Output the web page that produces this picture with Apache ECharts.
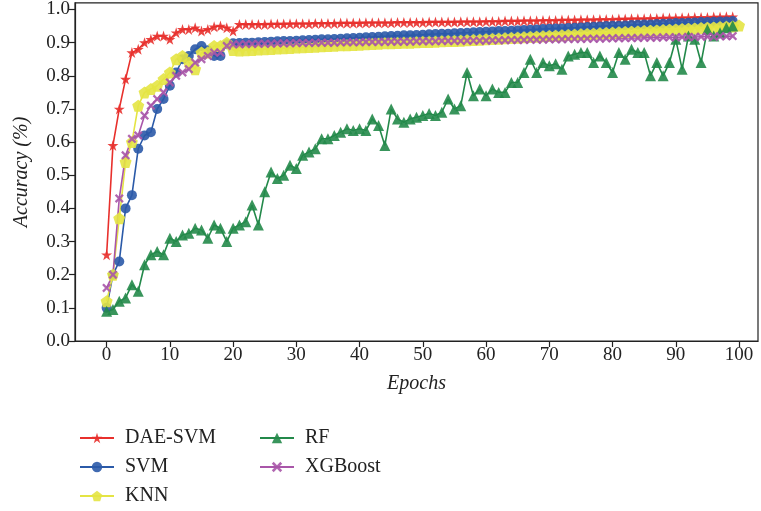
<!DOCTYPE html>
<html>
<head>
<meta charset="utf-8">
<title>Accuracy vs Epochs</title>
<script src="https://cdn.jsdelivr.net/npm/echarts@6/dist/echarts.min.js"></script>
<style>
  html, body { margin: 0; padding: 0; background: #fff; }
  #chart { width: 761px; height: 511px; }
</style>
</head>
<body>
<div id="chart"></div>
<script>
// Accuracy per training epoch for each classifier
const daeSvm = [
  0.26, 0.59, 0.70, 0.79, 0.87, 0.88, 0.90, 0.91, 0.92, 0.92,
  0.91, 0.93, 0.94, 0.94, 0.945, 0.935, 0.94, 0.948, 0.95, 0.945,
  0.935, 0.955, 0.955, 0.955, 0.955, 0.955, 0.956, 0.956, 0.956, 0.957,
  0.957, 0.957, 0.957, 0.958, 0.958, 0.958, 0.958, 0.959, 0.959, 0.959,
  0.959, 0.96, 0.96, 0.96, 0.96, 0.96, 0.961, 0.961, 0.961, 0.961,
  0.961, 0.962, 0.962, 0.962, 0.962, 0.962, 0.963, 0.963, 0.963, 0.963,
  0.964, 0.964, 0.964, 0.965, 0.965, 0.965, 0.966, 0.966, 0.966, 0.967,
  0.967, 0.967, 0.968, 0.968, 0.968, 0.969, 0.969, 0.969, 0.97, 0.97,
  0.97, 0.971, 0.971, 0.972, 0.972, 0.972, 0.973, 0.973, 0.974, 0.974,
  0.974, 0.975, 0.975, 0.976, 0.976, 0.976, 0.977, 0.977, 0.978, 0.978
];
const svm = [
  0.10, 0.20, 0.24, 0.40, 0.44, 0.58, 0.62, 0.63, 0.70, 0.73,
  0.77, 0.81, 0.85, 0.86, 0.88, 0.89, 0.877, 0.86, 0.86, 0.895,
  0.898, 0.899, 0.90, 0.90, 0.901, 0.902, 0.903, 0.904, 0.905, 0.905,
  0.906, 0.907, 0.908, 0.909, 0.91, 0.91, 0.911, 0.912, 0.913, 0.914,
  0.915, 0.916, 0.917, 0.918, 0.919, 0.92, 0.921, 0.922, 0.922, 0.923,
  0.924, 0.925, 0.926, 0.927, 0.927, 0.928, 0.929, 0.93, 0.931, 0.932,
  0.933, 0.934, 0.935, 0.935, 0.936, 0.937, 0.938, 0.939, 0.94, 0.941,
  0.942, 0.943, 0.943, 0.944, 0.945, 0.946, 0.947, 0.948, 0.949, 0.95,
  0.951, 0.951, 0.952, 0.953, 0.954, 0.955, 0.955, 0.956, 0.957, 0.958,
  0.959, 0.959, 0.96, 0.961, 0.962, 0.962, 0.963, 0.964, 0.964, 0.965
];
const knn = [
  0.12, 0.20, 0.37, 0.54, 0.60, 0.71, 0.75, 0.76, 0.77, 0.79,
  0.81, 0.85, 0.86, 0.84, 0.82, 0.87, 0.87, 0.89, 0.89, 0.90,
  0.878, 0.876, 0.877, 0.878, 0.879, 0.88, 0.881, 0.882, 0.883, 0.884,
  0.885, 0.886, 0.887, 0.888, 0.889, 0.89, 0.891, 0.892, 0.892, 0.893,
  0.894, 0.895, 0.896, 0.897, 0.898, 0.898, 0.899, 0.90, 0.90, 0.901,
  0.902, 0.902, 0.903, 0.904, 0.905, 0.905, 0.906, 0.907, 0.908, 0.909,
  0.91, 0.911, 0.912, 0.913, 0.914, 0.915, 0.916, 0.917, 0.918, 0.919,
  0.92, 0.921, 0.922, 0.923, 0.924, 0.925, 0.926, 0.927, 0.928, 0.929,
  0.93, 0.931, 0.932, 0.933, 0.934, 0.935, 0.936, 0.937, 0.938, 0.939,
  0.94, 0.941, 0.942, 0.943, 0.944, 0.945, 0.946, 0.947, 0.948, 0.949,
  0.952
];
const rf = [
  0.09, 0.095, 0.12, 0.13, 0.17, 0.15, 0.23, 0.26, 0.27, 0.26,
  0.31, 0.30, 0.32, 0.325, 0.34, 0.335, 0.31, 0.35, 0.34, 0.30,
  0.34, 0.35, 0.36, 0.41, 0.35, 0.45, 0.51, 0.49, 0.50, 0.53,
  0.52, 0.56, 0.57, 0.58, 0.61, 0.61, 0.62, 0.63, 0.64, 0.635,
  0.64, 0.635, 0.67, 0.65, 0.59, 0.70, 0.67, 0.66, 0.67, 0.675,
  0.68, 0.686, 0.68, 0.69, 0.73, 0.70, 0.71, 0.81, 0.74, 0.76,
  0.74, 0.76, 0.75, 0.75, 0.78, 0.78, 0.81, 0.85, 0.81, 0.84,
  0.83, 0.836, 0.82, 0.86, 0.865, 0.87, 0.87, 0.84, 0.86, 0.84,
  0.81, 0.87, 0.85, 0.88, 0.87, 0.87, 0.80, 0.84, 0.80, 0.84,
  0.91, 0.82, 0.92, 0.91, 0.84, 0.94, 0.92, 0.93, 0.945, 0.95
];
const xgboost = [
  0.16, 0.20, 0.43, 0.56, 0.61, 0.62, 0.68, 0.71, 0.73, 0.75,
  0.78, 0.80, 0.81, 0.82, 0.84, 0.85, 0.86, 0.87, 0.87, 0.89,
  0.895, 0.895, 0.896, 0.896, 0.897, 0.897, 0.897, 0.898, 0.898, 0.898,
  0.899, 0.899, 0.899, 0.90, 0.90, 0.90, 0.90, 0.901, 0.901, 0.901,
  0.901, 0.902, 0.902, 0.902, 0.902, 0.903, 0.903, 0.903, 0.903, 0.904,
  0.904, 0.904, 0.904, 0.905, 0.905, 0.905, 0.905, 0.906, 0.906, 0.906,
  0.906, 0.907, 0.907, 0.907, 0.908, 0.908, 0.908, 0.909, 0.909, 0.909,
  0.91, 0.91, 0.91, 0.911, 0.911, 0.911, 0.912, 0.912, 0.912, 0.913,
  0.913, 0.913, 0.914, 0.914, 0.914, 0.915, 0.915, 0.915, 0.916, 0.916,
  0.916, 0.917, 0.917, 0.917, 0.918, 0.918, 0.918, 0.919, 0.919, 0.92
];

const xTicks = [0, 10, 20, 30, 40, 50, 60, 70, 80, 90, 100];
const yTicks = [0.0, 0.1, 0.2, 0.3, 0.4, 0.5, 0.6, 0.7, 0.8, 0.9, 1.0];

// marker shapes
const STAR = 'path://M50,0 L61.2,34.5 L97.6,34.5 L68.2,55.9 L79.4,90.5 L50,69.1 L20.6,90.5 L31.8,55.9 L2.4,34.5 L38.8,34.5 Z';
const PENTAGON = 'path://M50,0 L97.6,34.5 L79.4,90.5 L20.6,90.5 L2.4,34.5 Z';
const CROSS = 'path://M18,0 L50,32 L82,0 L100,18 L68,50 L100,82 L82,100 L50,68 L18,100 L0,82 L32,50 L0,18 Z';

const FONT = '"Liberation Serif", "DejaVu Serif", serif';

function pairs(values) {
  return values.map((v, i) => [i, v]);
}

function lineSeries(name, values, color, symbol, size) {
  return {
    name: name,
    type: 'line',
    data: pairs(values),
    symbol: symbol,
    symbolSize: size,
    showAllSymbol: true,
    lineStyle: { color: color, width: 1.6 },
    itemStyle: { color: color, opacity: 0.9 },
    emphasis: { disabled: true },
    animation: false
  };
}

const chart = echarts.init(document.getElementById('chart'), null, { renderer: 'canvas' });

const legendCommon = {
  orient: 'vertical',
  padding: 0,
  itemWidth: 34,
  itemHeight: 13,
  itemGap: 9,
  height: 90,
  textStyle: { fontFamily: FONT, fontSize: 20, color: '#222', padding: [0, 0, 0, 6] }
};

chart.setOption({
  backgroundColor: '#fff',
  animation: false,
  grid: {
    left: 75, right: 3, top: 2, bottom: 170,
    show: true, borderColor: '#222', borderWidth: 1.2, backgroundColor: 'transparent'
  },
  legend: [
    Object.assign({}, legendCommon, { left: 79, top: 428, data: ['DAE-SVM', 'SVM', 'KNN'] }),
    Object.assign({}, legendCommon, { left: 259, top: 428, data: ['RF', 'XGBoost'] })
  ],
  xAxis: {
    type: 'value',
    min: -5, max: 103,
    name: 'Epochs',
    nameLocation: 'middle',
    nameGap: 33,
    nameTextStyle: { fontFamily: FONT, fontSize: 20, fontStyle: 'italic', color: '#222' },
    axisLine: { show: true, onZero: false, lineStyle: { color: '#222', width: 1.2 } },
    axisTick: { show: true, length: 6, customValues: xTicks, lineStyle: { color: '#222', width: 1.2 } },
    axisLabel: { customValues: xTicks, fontFamily: FONT, fontSize: 19, color: '#222', margin: 5 },
    splitLine: { show: false }
  },
  yAxis: {
    type: 'value',
    min: 0, max: 1.02,
    name: 'Accuracy (%)',
    nameLocation: 'middle',
    nameGap: 43,
    nameTextStyle: { fontFamily: FONT, fontSize: 20, fontStyle: 'italic', color: '#222' },
    axisLine: { show: true, onZero: false, lineStyle: { color: '#222', width: 1.2 } },
    axisTick: { show: true, length: 6, customValues: yTicks, lineStyle: { color: '#222', width: 1.2 } },
    axisLabel: {
      customValues: yTicks, fontFamily: FONT, fontSize: 19, color: '#222', margin: 5,
      formatter: v => v.toFixed(1)
    },
    splitLine: { show: false }
  },
  series: [
    lineSeries('DAE-SVM', daeSvm, '#e8302c', STAR, 11),
    lineSeries('SVM', svm, '#2b5aa8', 'circle', 10),
    lineSeries('KNN', knn, '#e4e444', PENTAGON, 12),
    lineSeries('RF', rf, '#23894a', 'triangle', 11),
    lineSeries('XGBoost', xgboost, '#a956a9', CROSS, 9)
  ]
});
</script>
</body>
</html>
